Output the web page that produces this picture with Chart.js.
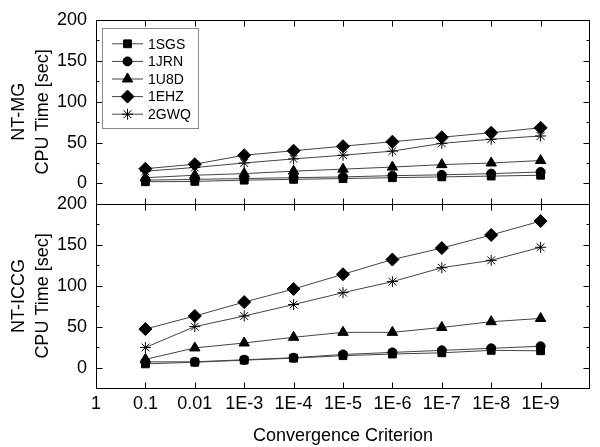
<!DOCTYPE html>
<html>
<head>
<meta charset="utf-8">
<script src="https://cdn.jsdelivr.net/npm/chart.js@4/dist/chart.umd.min.js"></script>
<style>
  html, body { margin: 0; padding: 0; background: #fff; }
  #wrap { width: 600px; height: 447px; }
</style>
</head>
<body>
<div id="wrap"><canvas id="c" width="600" height="447"></canvas></div>
<script>
// ---- data ----
const criteria = ['0.1', '0.01', '1E-3', '1E-4', '1E-5', '1E-6', '1E-7', '1E-8', '1E-9'];
const xTickLabels = ['1', ...criteria];
const yTicks = [0, 50, 100, 150, 200];
const seriesNames = ['1SGS', '1JRN', '1U8D', '1EHZ', '2GWQ'];

// NT-MG (top panel)
const mg1SGS = [2, 2.5, 4, 5, 6, 7, 8, 9, 10];
const mg1JRN = [4, 5, 6, 7, 8, 9.5, 10.5, 12, 14];
const mg1U8D = [7, 10, 12, 15, 17.5, 20, 23, 25, 28];
const mg1EHZ = [18, 23.5, 34.5, 40, 45.5, 51, 56.5, 62, 68];
const mg2GWQ = [15, 19.5, 25, 30, 34.5, 39.5, 49, 54, 58];

// NT-ICCG (bottom panel)
const iccg1SGS = [4.5, 6.5, 9, 11.5, 14.5, 16.5, 18, 21, 20.5];
const iccg1JRN = [7, 7, 9.5, 12, 16, 18.5, 21, 23.5, 26];
const iccg1U8D = [10, 24, 30, 37, 43, 43, 49, 56, 60];
const iccg1EHZ = [47, 63, 80, 96, 114, 132, 146, 162, 179];
const iccg2GWQ = [24.5, 50, 63, 77, 91.5, 105, 122, 131, 147];

// ---- styles ----
const FONT = 'Liberation Sans, Arial, sans-serif';
const markers = [
  { style: 'rect', r: 5.5 },
  { style: 'circle', r: 4.5 },
  { style: 'triangle', r: 6 },
  { style: 'rectRot', r: 6.5 },
  { style: 'star', r: 5.5 }
];

function makeSets(arrays, axis) {
  return arrays.map(function (vals, i) {
    return {
      label: seriesNames[i],
      yAxisID: axis,
      data: vals.map(function (v, j) { return { x: j + 1, y: v }; }),
      borderColor: '#444',
      borderWidth: 1,
      pointStyle: markers[i].style,
      pointRadius: markers[i].r,
      pointHoverRadius: markers[i].r,
      pointBackgroundColor: '#000',
      pointBorderColor: '#000',
      pointBorderWidth: 1,
      tension: 0,
      clip: false
    };
  });
}

const datasets = makeSets([mg1SGS, mg1JRN, mg1U8D, mg1EHZ, mg2GWQ], 'yTop')
  .concat(makeSets([iccg1SGS, iccg1JRN, iccg1U8D, iccg1EHZ, iccg2GWQ], 'yBot'));

function yScale(title) {
  return {
    type: 'linear',
    position: 'left',
    stack: 'panels',
    stackWeight: 1,
    min: -25,
    max: 200,
    afterBuildTicks: function (s) { s.ticks = yTicks.map(function (v) { return { value: v }; }); },
    afterFit: function (s) { s.width = 96; },
    ticks: { font: { family: FONT, size: 18 }, color: '#000', padding: 9 },
    grid: { display: false, drawTicks: false },
    border: { display: false },
    title: {
      display: true,
      text: title,
      font: { family: FONT, size: 18, lineHeight: 1.35 },
      color: '#000',
      padding: { top: 7, bottom: 0 }
    }
  };
}

// frame + inward ticks on every panel side
const framePlugin = {
  id: 'frame',
  afterDraw: function (chart) {
    const ctx = chart.ctx;
    const x = chart.scales.x;
    ctx.save();
    ctx.strokeStyle = '#000';
    ctx.lineWidth = 1;
    function seg(x1, y1, x2, y2) {
      ctx.beginPath(); ctx.moveTo(x1, y1); ctx.lineTo(x2, y2); ctx.stroke();
    }
    [chart.scales.yTop, chart.scales.yBot].forEach(function (ys) {
      const l = Math.round(x.left) + 0.5, r = Math.round(x.right) - 0.5;
      const t = Math.round(ys.top) + 0.5, b = Math.round(ys.bottom) + 0.5;
      ctx.strokeRect(l, t, r - l, b - t);
      xTickLabels.forEach(function (_, i) {
        const px = Math.round(x.getPixelForValue(i)) + 0.5;
        seg(px, b, px, b - 6);
        seg(px, t, px, t + 6);
      });
      for (let v = 0; v <= 200; v += 25) {
        const py = Math.round(ys.getPixelForValue(v)) + 0.5;
        const len = v % 50 === 0 ? 6 : 3;
        seg(l, py, l + len, py);
        seg(r, py, r - len, py);
      }
    });
    ctx.restore();
  }
};

// boxed legend in the top-left of the upper panel
const legendPlugin = {
  id: 'boxLegend',
  afterDraw: function (chart) {
    const ctx = chart.ctx;
    const top = chart.scales.yTop.top;
    const left = chart.scales.x.left;
    const bx = left + 6, by = top + 8, bw = 96, bh = 100;
    ctx.save();
    ctx.strokeStyle = '#888';
    ctx.lineWidth = 1;
    ctx.strokeRect(Math.round(bx) + 0.5, Math.round(by) + 0.5, bw, bh);
    ctx.font = '14px ' + FONT;
    ctx.textBaseline = 'middle';
    seriesNames.forEach(function (name, i) {
      const cy = by + 16 + i * 17.6;
      ctx.strokeStyle = '#444';
      ctx.beginPath(); ctx.moveTo(bx + 10, cy); ctx.lineTo(bx + 41, cy); ctx.stroke();
      ctx.fillStyle = '#000';
      ctx.strokeStyle = '#000';
      Chart.helpers.drawPoint(ctx, { pointStyle: markers[i].style, radius: markers[i].r, borderWidth: 1, rotation: 0 }, bx + 25.5, cy);
      ctx.fillStyle = '#000';
      ctx.fillText(name, bx + 46, cy + 1);
    });
    ctx.restore();
  }
};

new Chart(document.getElementById('c'), {
  type: 'line',
  data: { datasets: datasets },
  plugins: [framePlugin, legendPlugin],
  options: {
    responsive: false,
    animation: false,
    layout: { padding: { top: 15, right: 10, left: 0, bottom: 0 } },
    plugins: { legend: { display: false }, tooltip: { enabled: false } },
    scales: {
      x: {
        type: 'linear',
        min: 0,
        max: 10,
        afterBuildTicks: function (s) { s.ticks = xTickLabels.map(function (_, i) { return { value: i }; }); },
        afterFit: function (s) { s.height = 59; },
        ticks: {
          font: { family: FONT, size: 18 },
          color: '#000',
          padding: 5,
          maxRotation: 0,
          autoSkip: false,
          callback: function (v) { return xTickLabels[v] !== undefined ? xTickLabels[v] : ''; }
        },
        grid: { display: false, drawTicks: false },
        border: { display: false },
        title: {
          display: true,
          text: 'Convergence Criterion',
          font: { family: FONT, size: 18 },
          color: '#000',
          padding: { top: 3, bottom: 0 }
        }
      },
      yBot: yScale(['NT-ICCG', 'CPU Time [sec]']),
      yTop: yScale(['NT-MG', 'CPU Time [sec]'])
    }
  }
});
</script>
</body>
</html>
